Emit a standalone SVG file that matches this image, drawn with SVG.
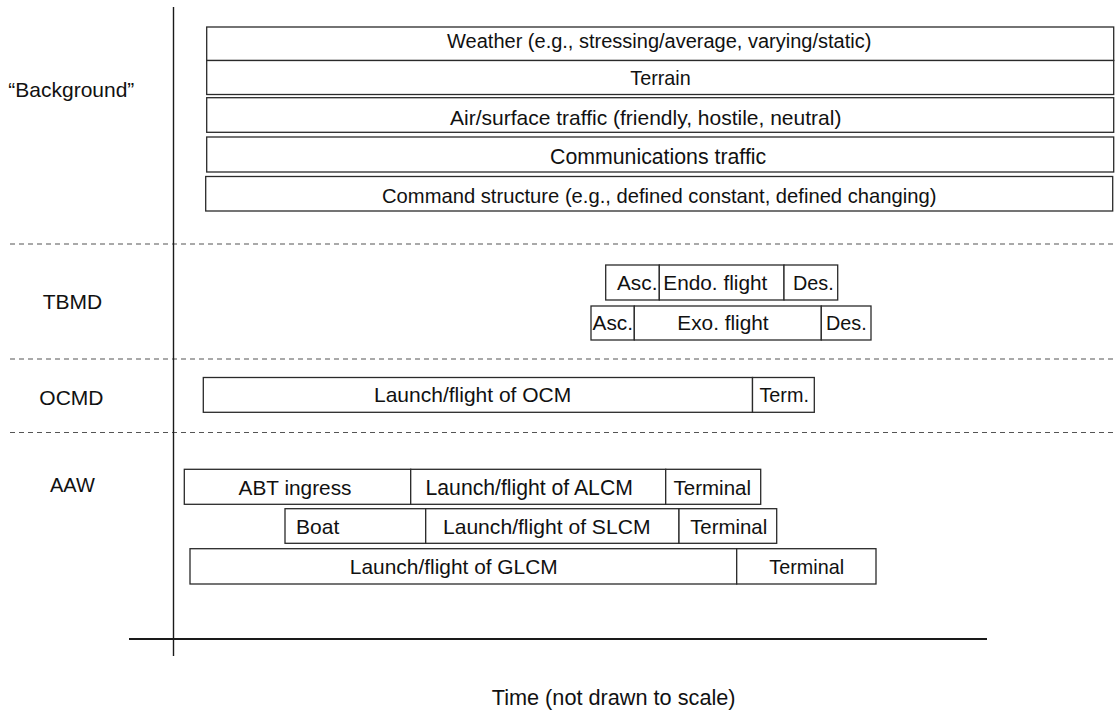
<svg xmlns="http://www.w3.org/2000/svg" width="1115" height="710" viewBox="0 0 1115 710">
<style>
  text { font-family: "Liberation Sans", Arial, Helvetica, sans-serif; fill: #111; }
  .b { fill: #fff; stroke: #2a2a2a; stroke-width: 1.3; }
  .t { font-size: 20.8px; text-anchor: middle; }
  .ts { font-size: 20.8px; text-anchor: start; }
  .lab { font-size: 21px; }
  .dash { stroke: #555; stroke-width: 1.1; stroke-dasharray: 5 4; fill: none; }
  .axis { stroke: #1a1a1a; fill: none; }
</style>
<rect width="1115" height="710" fill="#fff"/>

<g id="axes">
  <line class="dash" x1="10" y1="244" x2="1115" y2="244"/>
  <line class="dash" x1="10" y1="359" x2="1115" y2="359"/>
  <line class="dash" x1="10" y1="432.5" x2="1115" y2="432.5"/>
  <line class="axis" x1="173.5" y1="7" x2="173.5" y2="656" stroke-width="1.4"/>
  <line class="axis" x1="129" y1="639" x2="987" y2="639" stroke-width="2"/>
</g>

<g id="labels">
  <text class="lab" x="8.3" y="97.3">“Background”</text>
  <text class="lab" x="42.7" y="309.3">TBMD</text>
  <text class="lab" x="39.3" y="405">OCMD</text>
  <text class="lab" x="50" y="491.7" style="font-size:20px">AAW</text>
  <text x="491.7" y="705" style="font-size:21.7px">Time (not drawn to scale)</text>
</g>

<g id="weather">
  <rect class="b" x="206.7" y="27" width="907" height="33.5"/>
  <text class="t" x="659.2" y="48.3" style="font-size:20px">Weather (e.g., stressing/average, varying/static)</text>
</g>
<g id="terrain">
  <rect class="b" x="206.7" y="60.5" width="907" height="34"/>
  <text class="t" x="660.5" y="85" style="font-size:19.8px">Terrain</text>
</g>
<g id="air-surface-traffic">
  <rect class="b" x="206.7" y="97.7" width="907" height="34.6"/>
  <text class="ts" x="450" y="125" style="font-size:21px">Air/surface traffic (friendly, hostile, neutral)</text>
</g>
<g id="communications-traffic">
  <rect class="b" x="206.7" y="137" width="907" height="35"/>
  <text class="ts" x="550" y="163.5" style="font-size:21.3px">Communications traffic</text>
</g>
<g id="command-structure">
  <rect class="b" x="205.7" y="176.5" width="907" height="34.5"/>
  <text class="t" x="659.2" y="203" style="font-size:20.2px">Command structure (e.g., defined constant, defined changing)</text>
</g>

<g id="tbmd-endo-asc">
  <rect class="b" x="605.7" y="265" width="53.6" height="35"/>
  <text class="t" x="637.2" y="290">Asc.</text>
</g>
<g id="tbmd-endo-flight">
  <rect class="b" x="659.3" y="265" width="124.7" height="35"/>
  <text class="t" x="715.3" y="290">Endo. flight</text>
</g>
<g id="tbmd-endo-des">
  <rect class="b" x="784" y="265" width="53.7" height="35"/>
  <text class="t" x="813.3" y="290" style="font-size:19.8px">Des.</text>
</g>
<g id="tbmd-exo-asc">
  <rect class="b" x="591" y="306" width="43.3" height="34"/>
  <text class="t" x="612.8" y="330">Asc.</text>
</g>
<g id="tbmd-exo-flight">
  <rect class="b" x="634.3" y="306" width="187" height="34"/>
  <text class="t" x="723" y="330">Exo. flight</text>
</g>
<g id="tbmd-exo-des">
  <rect class="b" x="821.3" y="306" width="49.7" height="34"/>
  <text class="t" x="846.3" y="330" style="font-size:19.8px">Des.</text>
</g>

<g id="ocmd-flight">
  <rect class="b" x="203.3" y="377.5" width="549.2" height="34.8"/>
  <text class="ts" x="374" y="401.7" style="font-size:21px">Launch/flight of OCM</text>
</g>
<g id="ocmd-term">
  <rect class="b" x="752.5" y="377.5" width="61.8" height="34.8"/>
  <text class="t" x="784.2" y="401.7" style="font-size:19.8px">Term.</text>
</g>

<g id="aaw-abt-ingress">
  <rect class="b" x="184.3" y="469.3" width="226.4" height="35"/>
  <text class="t" x="295" y="495">ABT ingress</text>
</g>
<g id="aaw-alcm-flight">
  <rect class="b" x="410.7" y="469.3" width="255" height="35"/>
  <text class="t" x="529.2" y="495" style="font-size:21.2px">Launch/flight of ALCM</text>
</g>
<g id="aaw-alcm-terminal">
  <rect class="b" x="665.7" y="469.3" width="95" height="35"/>
  <text class="t" x="712.3" y="495" style="font-size:20.5px">Terminal</text>
</g>
<g id="aaw-boat">
  <rect class="b" x="285" y="508.7" width="140.7" height="34.6"/>
  <text class="t" x="317.7" y="534" style="font-size:21px">Boat</text>
</g>
<g id="aaw-slcm-flight">
  <rect class="b" x="425.7" y="508.7" width="253.3" height="34.6"/>
  <text class="t" x="546.7" y="534" style="font-size:21.1px">Launch/flight of SLCM</text>
</g>
<g id="aaw-slcm-terminal">
  <rect class="b" x="679" y="508.7" width="97.7" height="34.6"/>
  <text class="t" x="728.7" y="534" style="font-size:20.4px">Terminal</text>
</g>
<g id="aaw-glcm-flight">
  <rect class="b" x="190" y="548.7" width="546.7" height="35.3"/>
  <text class="t" x="453.8" y="574" style="font-size:20.9px">Launch/flight of GLCM</text>
</g>
<g id="aaw-glcm-terminal">
  <rect class="b" x="736.7" y="548.7" width="139.3" height="35.3"/>
  <text class="t" x="806.7" y="574" style="font-size:19.8px">Terminal</text>
</g>
</svg>
